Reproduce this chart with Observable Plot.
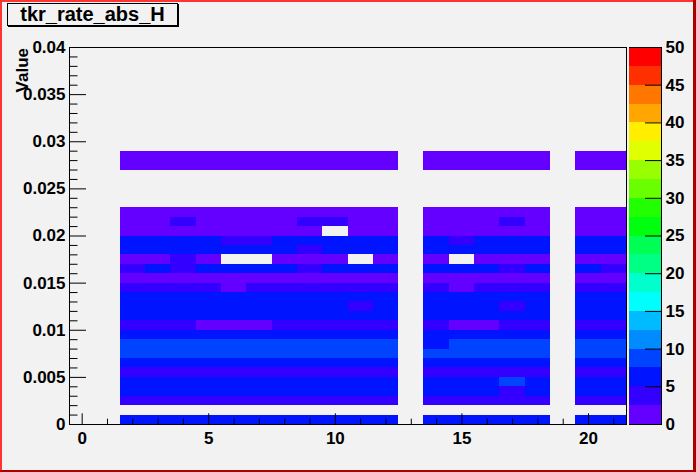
<!DOCTYPE html>
<html>
<head>
<meta charset="utf-8">
<script src="https://cdn.jsdelivr.net/npm/d3@7"></script>
<script src="https://cdn.jsdelivr.net/npm/@observablehq/plot@0.6"></script>
<style>
  html, body { margin: 0; padding: 0; background: #f2f2f2; }
  #wrap { position: relative; width: 696px; height: 472px; background: #f2f2f2; overflow: hidden;
          font-family: "Liberation Sans", Arial, Helvetica, sans-serif; font-weight: bold; color: #000; }
  #wrap svg { position: absolute; top: 0; overflow: visible; }
  .edge { position: absolute; }
  #title { position: absolute; left: 7px; top: 3px; width: 171px; height: 23px; box-sizing: border-box;
           border: 1px solid #000; box-shadow: 1px 1px 0 #000; background: #f2f2f2;
           font-size: 20px; line-height: 21px; text-align: center; white-space: nowrap; }
  #ytitle { position: absolute; left: 14px; top: 48px; writing-mode: vertical-rl; transform: rotate(180deg);
            font-size: 17px; line-height: 17px; white-space: nowrap; }
</style>
</head>
<body>
<div id="wrap"></div>
<script>
// ---------------- data ----------------
const titleText = "tkr_rate_abs_H";
const yTitleText = "Value";

// bin centres along x (filled columns only)
const xBins = [2, 3, 4, 5, 6, 7, 8, 9, 10, 11, 12, 14, 15, 16, 17, 18, 20, 21];
const xBinWidth = 1;
// lower edges of the filled y bins
const yBinLow = [0.000, 0.002, 0.003, 0.004, 0.005, 0.006, 0.007, 0.008, 0.009, 0.010, 0.011,
                 0.012, 0.013, 0.014, 0.015, 0.016, 0.017, 0.018, 0.019, 0.020, 0.021, 0.022,
                 0.027, 0.028];
const yBinWidth = 0.001;

// bin contents, one row per yBinLow entry, one column per xBins entry
const counts = [
  [6,6,6,6,6,6,6,6,6,6,6, 6,6,6,6,6, 6,6],                 // 0.000
  [4,4,4,4,4,4,4,4,4,4,4, 4,4,4,4,4, 4,4],                 // 0.002
  [6,6,6,6,6,6,6,6,6,6,6, 6,6,6,4,6, 6,6],                 // 0.003
  [6,6,6,6,6,6,6,6,6,6,6, 6,6,6,8.5,6, 6,6],               // 0.004
  [4,4,4,4,4,4,4,4,4,4,4, 4,4,4,4,4, 4,4],                 // 0.005
  [6,6,6,6,6,6,6,6,6,6,6, 6,6,6,6,6, 6,6],                 // 0.006
  [8.5,8.5,8.5,8.5,8.5,8.5,8.5,8.5,8.5,8.5,8.5, 8.5,8.5,8.5,8.5,8.5, 8.5,8.5], // 0.007
  [8.5,8.5,8.5,8.5,8.5,8.5,8.5,8.5,8.5,8.5,8.5, 6,8.5,8.5,8.5,8.5, 8.5,8.5],   // 0.008
  [6,6,6,6,6,6,6,6,6,6,6, 6,6,6,6,6, 6,6],                 // 0.009
  [4,4,4,1.5,1.5,1.5,4,4,4,4,4, 4,1.5,1.5,4,4, 4,4],       // 0.010
  [6,6,6,6,6,6,6,6,6,6,6, 6,6,6,6,6, 6,6],                 // 0.011
  [6,6,6,6,6,6,6,6,6,4,6, 6,6,6,4,6, 6,6],                 // 0.012
  [6,6,6,6,6,6,6,6,6,6,6, 6,6,6,6,6, 6,6],                 // 0.013
  [4,4,4,4,1.5,4,4,4,4,4,4, 4,1.5,4,4,4, 4,4],             // 0.014
  [1.5,1.5,1.5,1.5,1.5,1.5,1.5,1.5,1.5,1.5,1.5, 1.5,1.5,1.5,1.5,1.5, 1.5,1.5], // 0.015
  [4,6,4,6,6,6,6,4,6,6,6, 6,6,6,4,6, 6,4],                 // 0.016
  [1.5,1.5,4,1.5,0,0,1.5,1.5,1.5,0,1.5, 1.5,0,1.5,1.5,1.5, 1.5,1.5], // 0.017
  [6,6,6,6,6,6,6,4,6,6,6, 6,6,6,6,6, 6,6],                 // 0.018
  [6,6,6,6,4,4,6,6,6,6,6, 6,4,6,6,6, 6,6],                 // 0.019
  [1.5,1.5,1.5,1.5,1.5,1.5,1.5,1.5,0,1.5,1.5, 1.5,1.5,1.5,1.5,1.5, 1.5,1.5], // 0.020
  [1.5,1.5,4,1.5,1.5,1.5,1.5,4,4,1.5,1.5, 1.5,1.5,1.5,4,1.5, 1.5,1.5],       // 0.021
  [1.5,1.5,1.5,1.5,1.5,1.5,1.5,1.5,1.5,1.5,1.5, 1.5,1.5,1.5,1.5,1.5, 1.5,1.5], // 0.022
  [1.5,1.5,1.5,1.5,1.5,1.5,1.5,1.5,1.5,1.5,1.5, 1.5,1.5,1.5,1.5,1.5, 1.5,1.5], // 0.027
  [1.5,1.5,1.5,1.5,1.5,1.5,1.5,1.5,1.5,1.5,1.5, 1.5,1.5,1.5,1.5,1.5, 1.5,1.5]  // 0.028
];

// axes
const xDomain = [-0.5, 21.5];
const yDomain = [0, 0.04];
const xTicks = [0, 5, 10, 15, 20];
const xTickLabels = ["0", "5", "10", "15", "20"];
const xMinorTicks = [1, 2, 3, 4, 6, 7, 8, 9, 11, 12, 13, 14, 16, 17, 18, 19, 21];
const yTicks = [0, 0.005, 0.01, 0.015, 0.02, 0.025, 0.03, 0.035, 0.04];
const yTickLabels = ["0", "0.005", "0.01", "0.015", "0.02", "0.025", "0.03", "0.035", "0.04"];
const yMinorTicks = [0.001, 0.002, 0.003, 0.004, 0.006, 0.007, 0.008, 0.009, 0.011, 0.012, 0.013, 0.014,
                     0.016, 0.017, 0.018, 0.019, 0.021, 0.022, 0.023, 0.024, 0.026, 0.027, 0.028, 0.029,
                     0.031, 0.032, 0.033, 0.034, 0.036, 0.037, 0.038, 0.039];

// colour palette (z axis)
const zDomain = [0, 50];
const zThresholds = [2.5, 5, 7.5, 10, 12.5, 15, 17.5, 20, 22.5, 25, 27.5, 30, 32.5, 35, 37.5, 40, 42.5, 45, 47.5];
const palette = ["#6300ff", "#3300ff", "#0014ff", "#0044ff", "#008bff", "#00bbff", "#00fffc", "#00ffcc",
                 "#00ff85", "#00ff55", "#00ff0e", "#22ff00", "#69ff00", "#99ff00", "#e0ff00", "#ffee00",
                 "#ffa700", "#ff7700", "#ff3000", "#ff0000"];
const zTicks = [0, 5, 10, 15, 20, 25, 30, 35, 40, 45, 50];

// ---------------- build ----------------
const cells = [];
yBinLow.forEach((y0, r) => xBins.forEach((x, c) => {
  const v = counts[r][c];
  if (v > 0) cells.push({x, y0, v});
}));
const bandLow = [zDomain[0], ...zThresholds];
const bands = bandLow.map((lo, i) => ({lo, hi: i < zThresholds.length ? zThresholds[i] : zDomain[1]}));

const colorOpts = {type: "threshold", domain: zThresholds, range: palette};
const font = {background: "transparent", fontFamily: "'Liberation Sans', Arial, Helvetica, sans-serif",
              fontSize: "17px", fontWeight: "bold", color: "#000", overflow: "visible"};

const main = Plot.plot({
  width: 696, height: 472,
  marginLeft: 69, marginRight: 70, marginTop: 47, marginBottom: 48,
  style: font,
  x: {domain: xDomain, label: null, axis: null},
  y: {domain: yDomain, label: null, axis: null},
  color: colorOpts,
  marks: [
    Plot.rect(cells, {
      x1: d => d.x - xBinWidth / 2, x2: d => d.x + xBinWidth / 2,
      y1: "y0", y2: d => d.y0 + yBinWidth,
      fill: "v", shapeRendering: "crispEdges"
    }),
    Plot.frame({stroke: "#000", strokeWidth: 1}),
    Plot.axisX(xMinorTicks, {tickSize: -5.3, tickFormat: () => "", stroke: "#000"}),
    Plot.axisX(xTicks, {tickSize: -10.7, tickPadding: 17.7, stroke: "#000", fill: "#000",
      tickFormat: d => xTickLabels[xTicks.indexOf(d)]}),
    Plot.axisY(yMinorTicks, {tickSize: -8.5, tickFormat: () => "", stroke: "#000"}),
    Plot.axisY(yTicks, {tickSize: -17, tickPadding: 21, stroke: "#000", fill: "#000",
      tickFormat: d => yTickLabels[yTicks.indexOf(d)]})
  ]
});
main.style.left = "0px";

const bar = Plot.plot({
  width: 67, height: 472,
  marginLeft: 0, marginRight: 35, marginTop: 47, marginBottom: 48,
  style: font,
  x: {domain: [0, 1], axis: null},
  y: {domain: zDomain, label: null, axis: null},
  color: colorOpts,
  marks: [
    Plot.barY(bands, {y1: "lo", y2: "hi", fill: "lo", shapeRendering: "crispEdges"}),
    Plot.ruleY(zDomain, {stroke: "#000"}),
    Plot.ruleX([1], {stroke: "#000"}),
    Plot.axisY(zTicks, {anchor: "right", tickSize: -17, tickPadding: 21, stroke: "#000", fill: "#000",
      tickFormat: d => String(d)})
  ]
});
bar.style.left = "629px";

const wrap = document.getElementById("wrap");
wrap.appendChild(main);
wrap.appendChild(bar);

const t = document.createElement("div");
t.id = "title"; t.textContent = titleText;
wrap.appendChild(t);

const yt = document.createElement("div");
yt.id = "ytitle"; yt.textContent = yTitleText;
wrap.appendChild(yt);

// canvas bevel border
[["0px","0px","696px","2px","#ff3333"], ["0px","0px","2px","472px","#ff3333"],
 ["693px","0px","3px","472px","#aa0000"], ["0px","470px","696px","2px","#aa0000"]].forEach(([l,tp,w,h,c]) => {
  const e = document.createElement("div");
  e.className = "edge";
  Object.assign(e.style, {left: l, top: tp, width: w, height: h, background: c});
  wrap.appendChild(e);
});
</script>
</body>
</html>
